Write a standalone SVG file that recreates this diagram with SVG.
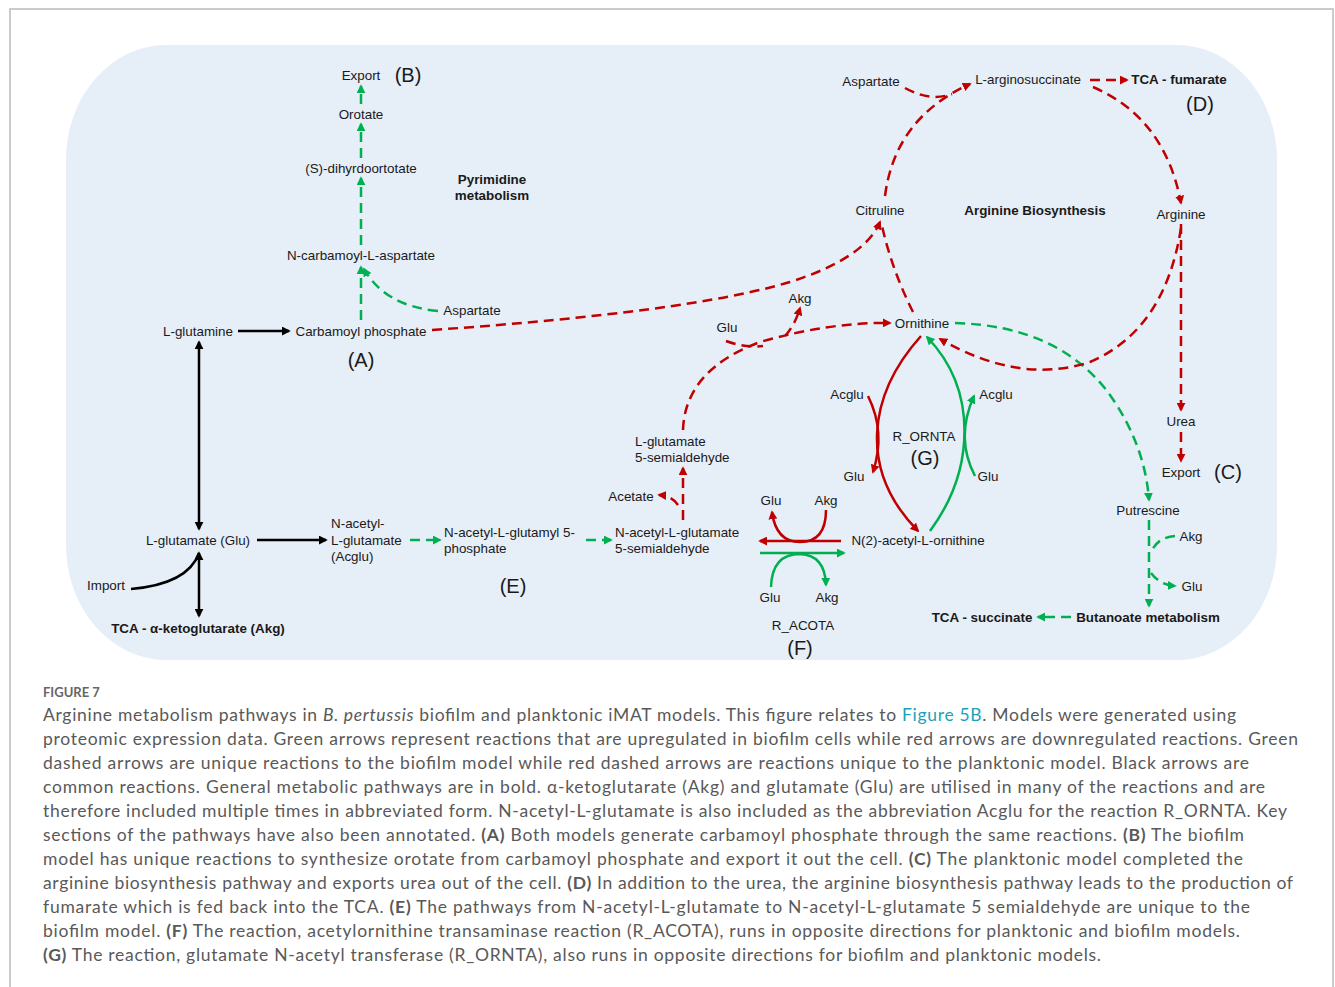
<svg xmlns="http://www.w3.org/2000/svg" width="1335" height="987" viewBox="0 0 1335 987">
<defs>
<style>
.t{font-family:"Liberation Sans",Arial,sans-serif;font-size:13.4px;fill:#1a1a1a;text-anchor:middle}
.l{text-anchor:start}
.b{font-weight:bold}
.big{font-family:"Liberation Sans",Arial,sans-serif;font-size:20px;fill:#1a1a1a;text-anchor:middle}
.r{fill:none;stroke:#c00000;stroke-width:2.5}
.g{fill:none;stroke:#00b050;stroke-width:2.5}
.k{fill:none;stroke:#000;stroke-width:2.5}
.d{stroke-dasharray:10 6}
.cap{font-family:Lato,"Open Sans",sans-serif;font-size:17.5px;fill:#595959}
.cap tspan.bb{font-weight:bold}
</style>
<marker id="ar" viewBox="0 0 10 10" refX="8" refY="5" markerWidth="9" markerHeight="9" markerUnits="userSpaceOnUse" orient="auto-start-reverse"><path d="M0,0 L10,5 L0,10 z" fill="#c00000"/></marker>
<marker id="ag" viewBox="0 0 10 10" refX="8" refY="5" markerWidth="9" markerHeight="9" markerUnits="userSpaceOnUse" orient="auto-start-reverse"><path d="M0,0 L10,5 L0,10 z" fill="#00b050"/></marker>
<marker id="ak" viewBox="0 0 10 10" refX="8" refY="5" markerWidth="9" markerHeight="9" markerUnits="userSpaceOnUse" orient="auto-start-reverse"><path d="M0,0 L10,5 L0,10 z" fill="#000"/></marker>
</defs>
<rect x="0" y="0" width="1335" height="987" fill="#fff"/>
<path d="M10,987 V9 H1333 V987" fill="none" stroke="#bbb" stroke-width="1.5"/>
<rect x="66" y="45" width="1211" height="615" rx="100" ry="115" fill="#e6eef7"/>

<g id="connectors">
<path class="k" d="M238,331 H289" marker-end="url(#ak)"/>
<path class="k" d="M199,342 V529" marker-start="url(#ak)" marker-end="url(#ak)"/>
<path class="k" d="M257,540 H326" marker-end="url(#ak)"/>
<path class="k" d="M199,553 V616" marker-start="url(#ak)" marker-end="url(#ak)"/>
<path class="k" d="M131,589 Q188,584 199,553"/>
<path class="g d" d="M361,320 V267" marker-end="url(#ag)"/>
<path class="g d" d="M438,311 Q385,306 364,269" marker-end="url(#ag)"/>
<path class="g d" d="M361,245 V178" marker-end="url(#ag)"/>
<path class="g d" d="M361,158 V124" marker-end="url(#ag)"/>
<path class="g d" d="M361,104 V86" marker-end="url(#ag)"/>
<path class="g d" d="M410,540 H440" marker-end="url(#ag)"/>
<path class="g d" d="M586,540 H611" marker-end="url(#ag)"/>
<path class="g d" d="M955,323 Q1060,326 1110,395 Q1145,445 1149,500" marker-end="url(#ag)"/>
<path class="g d" d="M1149,520 V606" marker-end="url(#ag)"/>
<path class="g d" d="M1175,536 Q1158,537 1151,552"/>
<path class="g d" d="M1151,573 Q1160,585 1175,586" marker-end="url(#ag)"/>
<path class="g d" d="M1071,617 H1038" marker-end="url(#ag)"/>
<path class="r d" d="M432,330 Q690,312 790,282 Q865,258 880,222" marker-end="url(#ar)"/>
<path class="r d" d="M913,312 Q892,270 882,226"/>
<path class="r d" d="M885,196 Q895,118 970,84" marker-end="url(#ar)"/>
<path class="r d" d="M905,88 Q930,102 952,94"/>
<path class="r d" d="M1090,80 H1127" marker-end="url(#ar)"/>
<path class="r d" d="M1093,87 Q1165,118 1181,203" marker-end="url(#ar)"/>
<path class="r d" d="M1181,224 V410" marker-end="url(#ar)"/>
<path class="r d" d="M1181,432 V461" marker-end="url(#ar)"/>
<path class="r d" d="M1181,228 Q1165,330 1090,362 Q1020,385 940,339" marker-end="url(#ar)"/>
<path class="r d" d="M683,520 V468" marker-end="url(#ar)"/>
<path class="r d" d="M678,505 Q672,496 659,495" marker-end="url(#ar)"/>
<path class="r d" d="M683,430 Q685,370 760,342 Q830,322 890,323" marker-end="url(#ar)"/>
<path class="r d" d="M726,341 Q745,348 763,346"/>
<path class="r d" d="M785,336 Q795,325 800,308" marker-end="url(#ar)"/>
<path class="r" d="M841,541 H760" marker-end="url(#ar)"/>
<path class="r" d="M826,510 Q826,542 800,542 Q776,542 772,512" marker-end="url(#ar)"/>
<path class="g" d="M760,553 H844" marker-end="url(#ag)"/>
<path class="g" d="M771,587 Q772,554 800,554 Q825,555 826,585" marker-end="url(#ag)"/>
<path class="r" d="M921,336 C868,395 858,470 918,531" marker-end="url(#ar)"/>
<path class="r" d="M868,396 Q886,432 873,472" marker-end="url(#ar)"/>
<path class="g" d="M930,531 C975,470 978,390 927,337" marker-end="url(#ag)"/>
<path class="g" d="M975,476 Q955,438 974,396" marker-end="url(#ag)"/>
</g>

<g id="n-export-b"><text class="t" x="361" y="80">Export</text><text class="big" x="408" y="82">(B)</text></g>
<g id="n-orotate"><text class="t" x="361" y="119">Orotate</text></g>
<g id="n-dihydro"><text class="t" x="361" y="173">(S)-dihyrdoortotate</text></g>
<g id="n-pyrimidine"><text class="t b" x="492" y="184">Pyrimidine</text><text class="t b" x="492" y="200">metabolism</text></g>
<g id="n-ncarb"><text class="t" x="361" y="260">N-carbamoyl-L-aspartate</text></g>
<g id="n-asp1"><text class="t" x="472" y="315">Aspartate</text></g>
<g id="n-glutamine"><text class="t" x="198" y="336">L-glutamine</text></g>
<g id="n-carbp"><text class="t" x="361" y="336">Carbamoyl phosphate</text><text class="big" x="361" y="367">(A)</text></g>
<g id="n-glu"><text class="t" x="198" y="545">L-glutamate (Glu)</text></g>
<g id="n-import"><text class="t" x="106" y="590">Import</text></g>
<g id="n-tca-akg"><text class="t b" x="198" y="633">TCA - α-ketoglutarate (Akg)</text></g>
<g id="n-acglu"><text class="t l" x="331" y="528">N-acetyl-</text><text class="t l" x="331" y="545">L-glutamate</text><text class="t l" x="331" y="561">(Acglu)</text></g>
<g id="n-glutamyl"><text class="t l" x="444" y="537">N-acetyl-L-glutamyl 5-</text><text class="t l" x="444" y="553">phosphate</text><text class="big" x="513" y="593">(E)</text></g>
<g id="n-nags"><text class="t l" x="615" y="537">N-acetyl-L-glutamate</text><text class="t l" x="615" y="553">5-semialdehyde</text></g>
<g id="n-acetate"><text class="t" x="631" y="501">Acetate</text></g>
<g id="n-lgs"><text class="t l" x="635" y="446">L-glutamate</text><text class="t l" x="635" y="462">5-semialdehyde</text></g>
<g id="n-glu-akg1"><text class="t" x="727" y="332">Glu</text><text class="t" x="800" y="303">Akg</text></g>
<g id="n-ornithine"><text class="t" x="922" y="328">Ornithine</text></g>
<g id="n-citruline"><text class="t" x="880" y="215">Citruline</text></g>
<g id="n-asp2"><text class="t" x="871" y="86">Aspartate</text></g>
<g id="n-argsucc"><text class="t" x="1028" y="84">L-arginosuccinate</text></g>
<g id="n-fumarate"><text class="t b" x="1179" y="84">TCA - fumarate</text><text class="big" x="1200" y="111">(D)</text></g>
<g id="n-argbio"><text class="t b" x="1035" y="215">Arginine Biosynthesis</text></g>
<g id="n-arginine"><text class="t" x="1181" y="219">Arginine</text></g>
<g id="n-urea"><text class="t" x="1181" y="426">Urea</text></g>
<g id="n-export-c"><text class="t" x="1181" y="477">Export</text><text class="big" x="1228" y="479">(C)</text></g>
<g id="n-putrescine"><text class="t" x="1148" y="515">Putrescine</text><text class="t" x="1191" y="541">Akg</text><text class="t" x="1192" y="591">Glu</text></g>
<g id="n-butanoate"><text class="t b" x="1148" y="622">Butanoate metabolism</text></g>
<g id="n-succinate"><text class="t b" x="982" y="622">TCA - succinate</text></g>
<g id="n-ornta"><text class="t" x="847" y="399">Acglu</text><text class="t" x="996" y="399">Acglu</text><text class="t" x="924" y="441">R_ORNTA</text><text class="big" x="925" y="465">(G)</text><text class="t" x="854" y="481">Glu</text><text class="t" x="988" y="481">Glu</text></g>
<g id="n-n2"><text class="t" x="918" y="545">N(2)-acetyl-L-ornithine</text></g>
<g id="n-acota"><text class="t" x="771" y="505">Glu</text><text class="t" x="826" y="505">Akg</text><text class="t" x="770" y="602">Glu</text><text class="t" x="827" y="602">Akg</text><text class="t" x="803" y="630">R_ACOTA</text><text class="big" x="800" y="655">(F)</text></g>

<g id="caption">
<text x="43" y="697" font-family="Lato,'Open Sans',sans-serif" font-size="13" font-weight="bold" fill="#666">FIGURE 7</text>
<text class="cap" x="43" y="721" textLength="1193" lengthAdjust="spacing">Arginine metabolism pathways in <tspan font-style="italic">B. pertussis</tspan> biofilm and planktonic iMAT models. This figure relates to <tspan fill="#1aa3b8">Figure 5B</tspan>. Models were generated using</text>
<text class="cap" x="43" y="745" textLength="1255" lengthAdjust="spacing">proteomic expression data. Green arrows represent reactions that are upregulated in biofilm cells while red arrows are downregulated reactions. Green</text>
<text class="cap" x="43" y="769" textLength="1206" lengthAdjust="spacing">dashed arrows are unique reactions to the biofilm model while red dashed arrows are reactions unique to the planktonic model. Black arrows are</text>
<text class="cap" x="43" y="793" textLength="1222" lengthAdjust="spacing">common reactions. General metabolic pathways are in bold. α-ketoglutarate (Akg) and glutamate (Glu) are utilised in many of the reactions and are</text>
<text class="cap" x="43" y="817" textLength="1244" lengthAdjust="spacing">therefore included multiple times in abbreviated form. N-acetyl-L-glutamate is also included as the abbreviation Acglu for the reaction R_ORNTA. Key</text>
<text class="cap" x="43" y="841" textLength="1201" lengthAdjust="spacing">sections of the pathways have also been annotated. <tspan class="bb">(A)</tspan> Both models generate carbamoyl phosphate through the same reactions. <tspan class="bb">(B)</tspan> The biofilm</text>
<text class="cap" x="43" y="865" textLength="1200" lengthAdjust="spacing">model has unique reactions to synthesize orotate from carbamoyl phosphate and export it out the cell. <tspan class="bb">(C)</tspan> The planktonic model completed the</text>
<text class="cap" x="43" y="889" textLength="1250" lengthAdjust="spacing">arginine biosynthesis pathway and exports urea out of the cell. <tspan class="bb">(D)</tspan> In addition to the urea, the arginine biosynthesis pathway leads to the production of</text>
<text class="cap" x="43" y="913" textLength="1207" lengthAdjust="spacing">fumarate which is fed back into the TCA. <tspan class="bb">(E)</tspan> The pathways from N-acetyl-L-glutamate to N-acetyl-L-glutamate 5 semialdehyde are unique to the</text>
<text class="cap" x="43" y="937" textLength="1197" lengthAdjust="spacing">biofilm model. <tspan class="bb">(F)</tspan> The reaction, acetylornithine transaminase reaction (R_ACOTA), runs in opposite directions for planktonic and biofilm models.</text>
<text class="cap" x="43" y="961" textLength="1058" lengthAdjust="spacing"><tspan class="bb">(G)</tspan> The reaction, glutamate N-acetyl transferase (R_ORNTA), also runs in opposite directions for biofilm and planktonic models.</text>
</g>
</svg>
